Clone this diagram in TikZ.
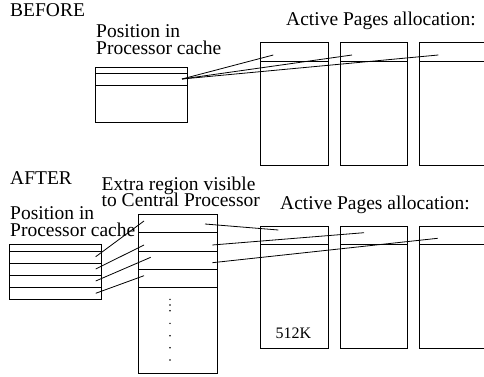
\documentclass[tikz,border=0pt]{standalone}
\usepackage{fontspec}
\setmainfont{Liberation Serif}
\usetikzlibrary{calc}
\begin{document}
\begin{tikzpicture}[x=1pt,y=-1pt,
  lbl/.style={anchor=base west,inner sep=0pt,font=\fontsize{19.5}{18}\selectfont},
  small/.style={anchor=base,inner sep=0pt,font=\fontsize{16}{16}\selectfont},
  box/.style={draw,line width=0.8pt},
  conn/.style={draw,line width=0.8pt},
  dotc/.style={fill,circle,inner sep=0pt,minimum size=1.6pt}]
\useasboundingbox (0,0) rectangle (484,377);
\clip (0,0) rectangle (484,377);

% ---------------- BEFORE ----------------
\node[lbl] (before) at (10,16.5) {BEFORE};
\node[lbl] (pos1a) at (96,37.3) {Position in};
\node[lbl] (pos1b) at (96,54.5) {Processor cache};
\node[lbl] (act1) at (286,26) {Active Pages allocation:};

% cache box (before)
\draw[box] (95.5,67) rectangle (187,122);
\draw[box] (95.5,73.3) -- (187,73.3);
\draw[box] (95.5,85.3) -- (187,85.3);

% page boxes (before)
\foreach \n/\xa/\xb in {1/260.7/328.3, 2/340/407.7, 3/419/487}{
  \draw[box] (\xa,42.7) rectangle (\xb,165);
  \draw[box] (\xa,61) -- (\xb,61);
}

% connectors (before)
\coordinate (c1) at (182,79);
\coordinate (b1) at (273.3,55);
\coordinate (b2) at (352,55);
\coordinate (b3) at (438.3,55);
\draw[conn] (c1) -- (b1);
\draw[conn] (c1) -- (b2);
\draw[conn] (c1) -- (b3);

% ---------------- AFTER ----------------
\node[lbl] (after) at (10,184) {AFTER};
\node[lbl] (extra1) at (101.5,190.7) {Extra region visible};
\node[lbl] (extra2) at (101.5,206) {to Central Processor};
\node[lbl] (pos2a) at (10,219) {Position in};
\node[lbl] (pos2b) at (10,236.7) {Processor cache};
\node[lbl] (act2) at (280,209) {Active Pages allocation:};

% left cache box (after)
\draw[box] (9.3,244.3) rectangle (101.3,299.7);
\foreach \y in {251,263.3,275.7,287.7}{
  \draw[box] (9.3,\y) -- (101.3,\y);
}

% middle box (after)
\draw[box] (138.3,214.3) rectangle (217.7,373.3);
\foreach \y in {232.3,251,269.3,287.7}{
  \draw[box] (138.3,\y) -- (217.7,\y);
}
\foreach \y in {299.3,305,310.7,323.3,335.7,347.7,360}{
  \node[dotc] at (170,\y) {};
}

% page boxes (after)
\foreach \n/\xa/\xb in {1/260.7/328.3, 2/340/407.7, 3/419/487}{
  \draw[box] (\xa,226.7) rectangle (\xb,348.3);
  \draw[box] (\xa,244.3) -- (\xb,244.3);
}
\node[small] (k512) at (293.5,338) {512K};

% connectors left -> middle
\coordinate (l1) at (95.7,256.7); \coordinate (m1) at (144,221);
\coordinate (l2) at (95.7,269);   \coordinate (m2) at (144,245);
\coordinate (l3) at (95.7,281);   \coordinate (m3) at (150.7,257.3);
\coordinate (l4) at (95.7,293.3); \coordinate (m4) at (144,275.7);
\draw[conn] (l1) -- (m1);
\draw[conn] (l2) -- (m2);
\draw[conn] (l3) -- (m3);
\draw[conn] (l4) -- (m4);

% connectors middle -> pages
\coordinate (n1) at (205,224);     \coordinate (p1) at (278.3,230);
\coordinate (n2) at (212.3,245);   \coordinate (p2) at (364,232.7);
\coordinate (n3) at (212.3,262.7); \coordinate (p3) at (437.7,238.3);
\draw[conn] (n1) -- (p1);
\draw[conn] (n2) -- (p2);
\draw[conn] (n3) -- (p3);
\end{tikzpicture}
\end{document}
